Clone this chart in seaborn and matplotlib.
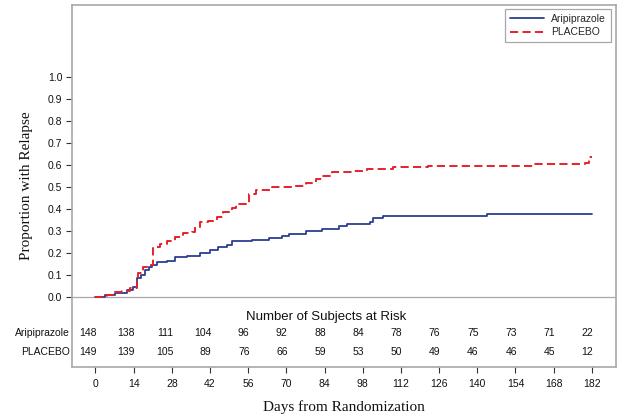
import matplotlib
matplotlib.use("Agg")
import matplotlib.pyplot as plt
import matplotlib.transforms as mtransforms
import pandas as pd
import seaborn as sns

# Kaplan-Meier style cumulative relapse curves
ari_days = [0, 3.6, 7.3, 11.6, 13.8, 15.3, 16.7, 18.2, 19.7, 20.7, 22.6, 26.2,
            29.1, 33.5, 38.2, 41.9, 44.8, 48.1, 50.2, 57.5, 63.7, 68.4, 71.0,
            77.2, 83.0, 89.2, 92.1, 100.8, 101.6, 105.6, 143.5, 182]
ari_vals = [0, 0.007, 0.015, 0.03, 0.045, 0.083, 0.10, 0.12, 0.135, 0.145,
            0.156, 0.164, 0.18, 0.187, 0.197, 0.213, 0.227, 0.235, 0.254, 0.26,
            0.268, 0.278, 0.283, 0.30, 0.31, 0.32, 0.33, 0.338, 0.356, 0.365,
            0.374, 0.374]

pla_days = [0, 4.4, 7.3, 9.8, 12.7, 15.3, 15.7, 17.5, 20.0, 21.1, 23.7, 26.2,
            29.1, 32.0, 35.3, 36.4, 38.2, 41.1, 44.4, 46.6, 49.9, 51.7, 55.3,
            56.4, 59.0, 64.8, 72.1, 77.2, 80.8, 83.0, 86.6, 94.6, 99.4, 109.2,
            122.0, 160.9, 179.5, 180.8, 182]
pla_vals = [0, 0.01, 0.02, 0.027, 0.038, 0.083, 0.11, 0.133, 0.145, 0.224,
            0.24, 0.255, 0.273, 0.288, 0.295, 0.318, 0.338, 0.345, 0.364, 0.383,
            0.403, 0.42, 0.428, 0.467, 0.485, 0.497, 0.505, 0.515, 0.535, 0.55,
            0.565, 0.573, 0.58, 0.588, 0.595, 0.603, 0.61, 0.635, 0.635]

# number at risk table
risk_days = [0, 14, 28, 42, 56, 70, 84, 98, 112, 126, 140, 154, 168, 182]
ari_risk = [148, 138, 111, 104, 96, 92, 88, 84, 78, 76, 75, 73, 71, 22]
pla_risk = [149, 139, 105, 89, 76, 66, 59, 53, 50, 49, 46, 46, 45, 12]

y_ticks = [0.0, 0.1, 0.2, 0.3, 0.4, 0.5, 0.6, 0.7, 0.8, 0.9, 1.0]

BLUE = "#2b3f90"
RED = "#e8202a"
GREY = "#a8a8a8"

sns.set_theme(style="white")
plt.rcParams['font.family'] = ['Liberation Sans', 'DejaVu Sans']

ari_df = pd.DataFrame({'day': ari_days, 'prop': ari_vals})
pla_df = pd.DataFrame({'day': pla_days, 'prop': pla_vals})

fig = plt.figure(figsize=(6.24, 4.16), dpi=100)
ax = fig.add_axes([0.1154, 0.1178, 0.8710, 0.8702])

sns.lineplot(data=ari_df, x='day', y='prop', ax=ax, color=BLUE, lw=1.3,
             drawstyle='steps-post', estimator=None, sort=False,
             label='Aripiprazole')
sns.lineplot(data=pla_df, x='day', y='prop', ax=ax, color=RED, lw=1.4,
             drawstyle='steps-post', estimator=None, sort=False,
             dashes=False, label='PLACEBO')
ax.lines[-1].set_dashes([4.2, 2.2])

ax.axhline(0, color=GREY, lw=0.9, zorder=0)

ax.set_xlim(-8.6, 190.7)
ax.set_ylim(-0.3195, 1.326)
ax.set_xticks(risk_days)
ax.set_xticklabels([str(d) for d in risk_days])
ax.set_yticks(y_ticks)
ax.set_yticklabels([f"{v:.1f}" for v in y_ticks])
ax.tick_params(axis='both', direction='out', length=4, width=0.8,
               color='#333333', labelsize=7.5, pad=3, labelcolor='#111111')
ax.tick_params(axis='x', pad=5)
ax.tick_params(left=True, bottom=True)

for s in ax.spines.values():
    s.set_color(GREY)
    s.set_linewidth(1.2)

ax.set_xlabel('Days from Randomization', family=['Liberation Serif'],
              fontsize=11, color='#111111')
ax.set_ylabel('Proportion with Relapse', family=['Liberation Serif'],
              fontsize=11, color='#111111')
ax.xaxis.set_label_coords(0.5, -0.091)
ax.yaxis.set_label_coords(-0.0714, 0.5)

# at-risk table inside the box
trans = mtransforms.blended_transform_factory(ax.transAxes, ax.transData)
ax.text(0.467, -0.09, 'Number of Subjects at Risk', transform=trans,
        ha='center', va='center', fontsize=9.5, color='#111111')
for label, counts, yy in [('Aripiprazole', ari_risk, -0.165),
                          ('PLACEBO', pla_risk, -0.251)]:
    ax.text(-0.004, yy, label, transform=trans, ha='right', va='center',
            fontsize=7.5, color='#111111')
    for d, n in zip(risk_days, counts):
        ax.text(d + 0.5, yy, str(n), ha='right', va='center',
                fontsize=7.5, color='#111111')

leg = ax.legend(loc='upper right', bbox_to_anchor=(0.9917, 0.989),
                borderaxespad=0, fontsize=7.5, handlelength=3.3,
                handletextpad=0.7, borderpad=0.45, labelspacing=0.35,
                frameon=True, fancybox=False, framealpha=1, edgecolor=GREY)
leg.get_frame().set_linewidth(0.9)

fig.savefig('out.png', dpi=100)
